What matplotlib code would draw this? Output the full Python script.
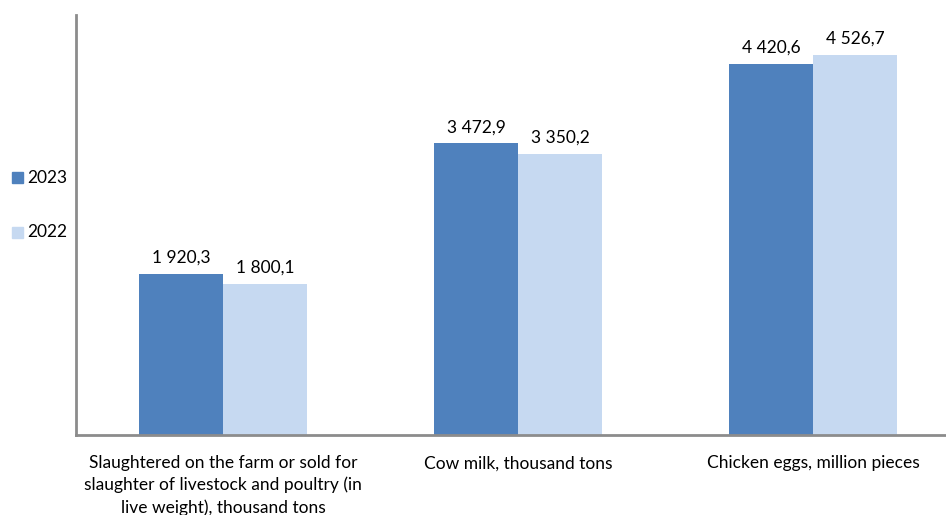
import matplotlib
matplotlib.use("Agg")
import matplotlib.pyplot as plt
from matplotlib.patches import Rectangle
import numpy as np

categories = [
    "Slaughtered on the farm or sold for\nslaughter of livestock and poultry (in\nlive weight), thousand tons",
    "Cow milk, thousand tons",
    "Chicken eggs, million pieces",
]
series_names = ["2023", "2022"]
values_2023 = [1920.3, 3472.9, 4420.6]
values_2022 = [1800.1, 3350.2, 4526.7]
colors = ["#4F81BD", "#C6D9F1"]

plt.rcParams["font.family"] = ["Lato", "DejaVu Sans"]

W, H = 946, 515
fig = plt.figure(figsize=(W / 100, H / 100), dpi=100)
ax = fig.add_axes([75.5 / W, 1 - 435 / H, 885 / W, 420 / H])

x = np.arange(len(categories))
bw = 0.285
for i, (vals, name, c) in enumerate(zip([values_2023, values_2022], series_names, colors)):
    offs = (i - 0.5) * bw
    ax.bar(x + offs, vals, width=bw, color=c, label=name, zorder=2)
    for xi, v in zip(x, vals):
        s = f"{v:,.1f}".replace(",", " ").replace(".", ",")
        ax.annotate(s, (xi + offs, v), xytext=(0, 8), textcoords="offset pixels",
                    ha="center", va="bottom", fontsize=12.5, color="#000000")

ax.set_xlim(-0.5, len(categories) - 0.5)
ax.set_ylim(0, 5000)
ax.set_yticks([])
ax.set_xticks(x)
ax.set_xticklabels(categories, fontsize=12.5, linespacing=1.42)
ax.tick_params(axis="x", length=0, pad=14.5)
for side in ["top", "right"]:
    ax.spines[side].set_visible(False)
for side in ["left", "bottom"]:
    ax.spines[side].set_color("#8C8C8C")
    ax.spines[side].set_linewidth(2)

# legend on the left
for j, (name, c) in enumerate(zip(series_names, colors)):
    yc = 178 + j * 54
    fig.patches.append(Rectangle((12 / W, 1 - (yc + 5.5) / H), 11 / W, 11 / H,
                                 transform=fig.transFigure, color=c, figure=fig))
    fig.text(27 / W, 1 - yc / H, name, fontsize=12.5, va="center", ha="left")

fig.savefig("out.png", dpi=100)
